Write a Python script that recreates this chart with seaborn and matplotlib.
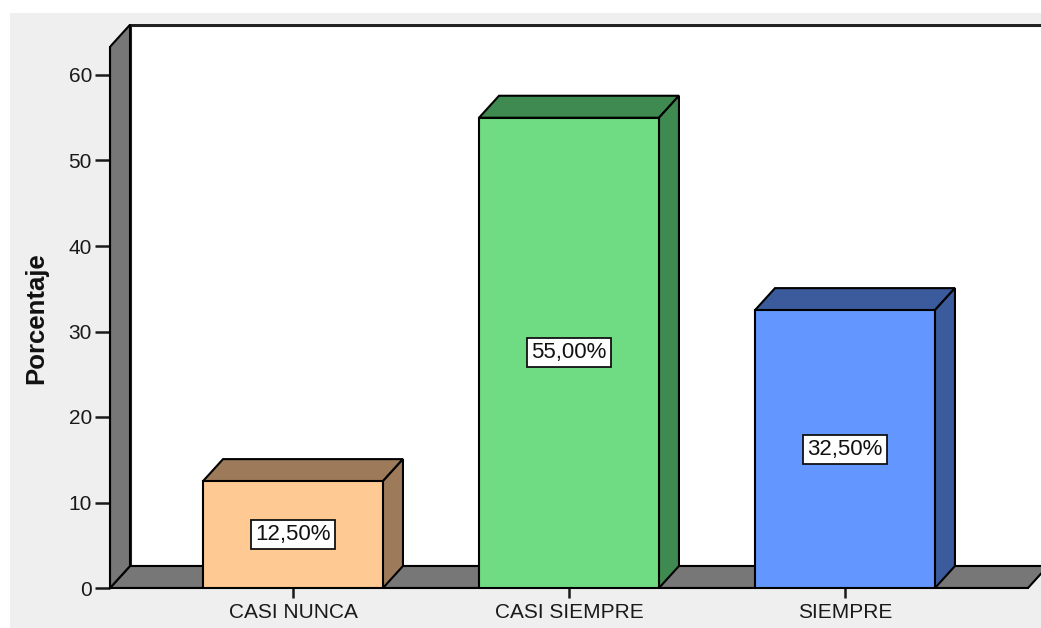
import matplotlib
matplotlib.use("Agg")
import matplotlib.pyplot as plt
from matplotlib.patches import Polygon, Rectangle
import seaborn as sns
import pandas as pd

# Data
categorias = ["CASI NUNCA", "CASI SIEMPRE", "SIEMPRE"]
porcentajes = [12.5, 55.0, 32.5]
etiquetas = ["12,50%", "55,00%", "32,50%"]
y_ticks = [0, 10, 20, 30, 40, 50, 60]

# Styling
color_frente = ["#FFC994", "#6FDC83", "#6397FF"]
color_lado = ["#9D7B5A", "#3F8A50", "#3B5B9C"]
gris_pared = "#777777"
fondo = "#EFEFEF"

sns.set_style("white")
plt.rcParams["font.family"] = ["Liberation Sans", "DejaVu Sans"]

W, H = 1041, 628
fig = plt.figure(figsize=(W / 100, H / 100), dpi=100, facecolor="white")
fig.patches.append(Rectangle((10 / W, 0), 1 - 10 / W, 1 - 13 / H,
                             transform=fig.transFigure, facecolor=fondo,
                             edgecolor="none", zorder=-10))

# Layout in pixels
px_left, px_bottom, px_unit_x, px_unit_y = 110, 588, 276.0, 8.55
x_min, x_max_floor = -0.663, 2.663
y_top = 66.0
ax_w_px = W - px_left + 2
ax_h_px = y_top * px_unit_y
ax = fig.add_axes([px_left / W, (H - px_bottom) / H, ax_w_px / W, ax_h_px / H])
ax.set_facecolor("none")

# Depth offset of the 3D extrusion (data units)
dx = 20 / px_unit_x
dy = 22 / px_unit_y
wall_top = 63.3

df = pd.DataFrame({"categoria": categorias, "porcentaje": porcentajes})
sns.barplot(data=df, x="categoria", y="porcentaje", hue="categoria",
            order=categorias, hue_order=categorias, palette=color_frente,
            width=0.652, legend=False, edgecolor="black", linewidth=1.5,
            saturation=1, ax=ax)
bars = list(ax.patches)
ax.set_xlim(x_min, x_min + ax_w_px / px_unit_x)
ax.set_ylim(0, y_top)

# Back plate
ax.add_patch(Rectangle((x_min + dx, dy), 10, wall_top, facecolor="white",
                       edgecolor="#222222", linewidth=2.2, zorder=0.5))
# Floor
ax.add_patch(Polygon([(x_min, 0), (x_min + dx, dy), (x_max_floor + dx, dy),
                      (x_max_floor, 0)], closed=True, facecolor=gris_pared,
                     edgecolor="black", linewidth=1.5, zorder=1))
# Left wall
ax.add_patch(Polygon([(x_min, 0), (x_min, wall_top), (x_min + dx, wall_top + dy),
                      (x_min + dx, dy)], closed=True, facecolor=gris_pared,
                     edgecolor="black", linewidth=1.5, zorder=1))

# Extruded top and side faces for each bar
for bar, lado, lab in zip(bars, color_lado, etiquetas):
    x0 = bar.get_x()
    w = bar.get_width()
    h = bar.get_height()
    x1 = x0 + w
    bar.set_zorder(3)
    ax.add_patch(Polygon([(x0, h), (x0 + dx, h + dy), (x1 + dx, h + dy), (x1, h)],
                         closed=True, facecolor=lado, edgecolor="black",
                         linewidth=1.5, zorder=2))
    ax.add_patch(Polygon([(x1, 0), (x1, h), (x1 + dx, h + dy), (x1 + dx, dy)],
                         closed=True, facecolor=lado, edgecolor="black",
                         linewidth=1.5, zorder=2))
    ax.text(x0 + w / 2, h / 2, lab, ha="center", va="center", fontsize=16,
            color="#111111", zorder=4,
            bbox=dict(boxstyle="square,pad=0.18", facecolor="white",
                      edgecolor="#111111", linewidth=1.3))

# Axes, ticks and labels
for s in ["top", "right"]:
    ax.spines[s].set_visible(False)
ax.spines["left"].set_bounds(0, wall_top)
ax.spines["left"].set_linewidth(1.5)
ax.spines["left"].set_color("black")
ax.spines["bottom"].set_bounds(x_min, x_max_floor)
ax.spines["bottom"].set_linewidth(1.5)
ax.spines["bottom"].set_color("black")

ax.set_yticks(y_ticks)
ax.set_yticklabels([str(t) for t in y_ticks])
ax.tick_params(axis="y", direction="out", length=11, width=1.8, pad=2,
               labelsize=15, colors="#1a1a1a", left=True)
ax.tick_params(axis="x", direction="out", length=7, width=1.8, pad=4,
               labelsize=15, colors="#1a1a1a", bottom=True)
ax.set_xlabel("")
ax.set_ylabel("Porcentaje", fontsize=18.5, fontweight="bold", color="#111111")
ax.yaxis.set_label_coords((48 - px_left) / ax_w_px, (px_bottom - 318) / ax_h_px)

fig.savefig("out.png", dpi=100, facecolor=fig.get_facecolor())
